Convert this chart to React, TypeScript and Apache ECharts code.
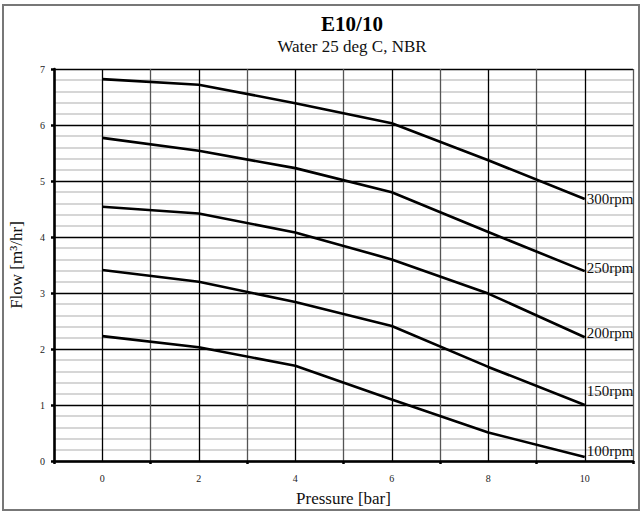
import React, { useEffect, useRef } from "react";
import * as echarts from "echarts";

const pressures = [0, 2, 4, 6, 8, 10];
const seriesNames = ["300rpm", "250rpm", "200rpm", "150rpm", "100rpm"];
const flow300 = [6.82, 6.72, 6.39, 6.03, 5.37, 4.68];
const flow250 = [5.77, 5.54, 5.23, 4.8, 4.09, 3.39];
const flow200 = [4.54, 4.42, 4.08, 3.6, 2.99, 2.21];
const flow150 = [3.41, 3.2, 2.84, 2.41, 1.68, 1.0];
const flow100 = [2.23, 2.03, 1.7, 1.1, 0.51, 0.07];
const allFlows = [flow300, flow250, flow200, flow150, flow100];
const labelOffsets = [[0, 0], [0, -3], [0, -4], [0, -14], [0, -6]];

const FONT = "'Liberation Serif', 'DejaVu Serif', serif";

export default function App() {
  const ref = useRef<HTMLDivElement>(null);
  useEffect(() => {
    if (!ref.current) return;
    const chart = echarts.init(ref.current, null, { renderer: "svg" });
    const series = allFlows.map((vals, i) => ({
      name: seriesNames[i],
      type: "line",
      xAxisIndex: 0,
      symbol: "none",
      lineStyle: { color: "#000", width: 2.6 },
      endLabel: {
        show: true,
        formatter: seriesNames[i],
        offset: labelOffsets[i],
        distance: 2,
        fontFamily: FONT,
        fontSize: 15,
        color: "#111",
      },
      data: vals.map((v, j) => [pressures[j], v]),
    }));
    chart.setOption({
      animation: false,
      backgroundColor: "#fff",
      grid: { left: 52, right: 8, top: 69, bottom: 51 },
      graphic: [
        {
          type: "rect",
          shape: { x: 3, y: 5, width: 636, height: 505 },
          style: { fill: "none", stroke: "#777", lineWidth: 2 },
          silent: true,
        },
        {
          type: "text",
          x: 352,
          y: 24,
          style: {
            text: "E10/10",
            font: `bold 21px ${FONT}`,
            fill: "#000",
            textAlign: "center",
            textVerticalAlign: "middle",
          },
        },
        {
          type: "text",
          x: 352,
          y: 46,
          style: {
            text: "Water 25 deg C, NBR",
            font: `17px ${FONT}`,
            fill: "#111",
            textAlign: "center",
            textVerticalAlign: "middle",
          },
        },
      ],
      xAxis: [
        {
          type: "value",
          min: -1,
          max: 11,
          interval: 1,
          position: "bottom",
          name: "Pressure [bar]",
          nameLocation: "middle",
          nameGap: 29,
          nameTextStyle: { fontFamily: FONT, fontSize: 17, color: "#111" },
          axisLine: { show: true, onZero: false, lineStyle: { color: "#000", width: 2.6 } },
          axisTick: { show: false },
          axisLabel: {
            fontFamily: FONT,
            fontSize: 10,
            color: "#222",
            margin: 12,
            formatter: (v: number) =>
              v >= 0 && v <= 10 && v % 2 === 0 ? String(v) : "",
          },
          splitLine: {
            show: true,
            lineStyle: { color: ["#555", "#000"], width: 1.3 },
          },
        },
        {
          type: "value",
          min: -1,
          max: 11,
          interval: 2,
          position: "bottom",
          axisLine: { show: false, onZero: false },
          axisTick: { show: true, length: 3, lineStyle: { color: "#000", width: 2.5 } },
          axisLabel: { show: false },
          splitLine: { show: false },
        },
      ],
      yAxis: {
        type: "value",
        min: 0,
        max: 7,
        interval: 1,
        position: "left",
        name: "Flow [m³/hr]",
        nameLocation: "middle",
        nameGap: 29,
        nameTextStyle: { fontFamily: FONT, fontSize: 17, color: "#111" },
        axisLine: { show: true, onZero: false, lineStyle: { color: "#000", width: 2.6 } },
        axisTick: { show: true, length: 3, lineStyle: { color: "#000", width: 2.5 } },
        axisLabel: { fontFamily: FONT, fontSize: 10, color: "#222", margin: 9 },
        splitLine: { show: true, lineStyle: { color: "#000", width: 1.4 } },
        minorTick: { show: false, splitNumber: 5 },
        minorSplitLine: { show: true, lineStyle: { color: "#c8c8c8", width: 1.5 } },
      },
      series,
    });
    return () => chart.dispose();
  }, []);
  return (
    <div
      ref={ref}
      style={{ position: "fixed", left: 0, top: 0, width: 641, height: 512 }}
    />
  );
}
